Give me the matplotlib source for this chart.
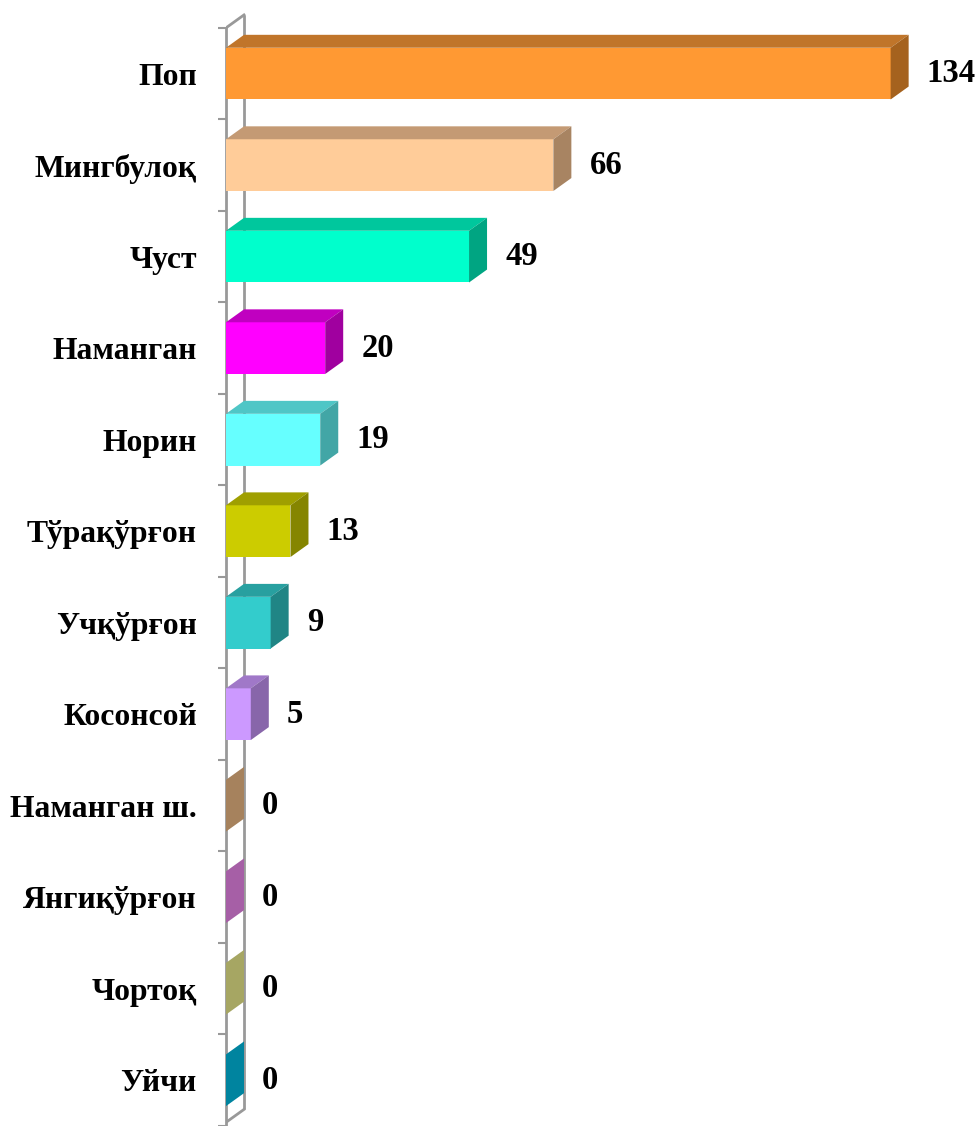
"""
3D-style horizontal bar chart of district counts.
"""
import numpy as np
import matplotlib
matplotlib.use("Agg")
from matplotlib import pyplot as plt
from matplotlib.patches import Polygon

# data
categories = ["Поп", "Мингбулоқ", "Чуст", "Наманган", "Норин", "Тўрақўрғон",
              "Учқўрғон", "Косонсой", "Наманган ш.", "Янгиқўрғон", "Чортоқ", "Уйчи"]
values = [134, 66, 49, 20, 19, 13, 9, 5, 0, 0, 0, 0]

# colours: front face, top face, right side face
front_colors = ["#FF9933", "#FFCC99", "#00FFCC", "#FF00FF", "#66FFFF", "#CCCC00",
                "#33CCCC", "#CC99FF", "#C89C70", "#C873C8", "#C8C878", "#00A0C0"]
top_colors = ["#C0752A", "#C49A74", "#00C79D", "#C000C0", "#4FC6C6", "#9F9F00",
              "#28A0A0", "#A078C8", "#A6825D", "#A65FA6", "#A6A663", "#00849F"]
side_colors = ["#A5621E", "#A88462", "#00A582", "#A0009F", "#42A6A6", "#858500",
               "#208585", "#8866AA", "#A6825D", "#A65FA6", "#A6A663", "#00849F"]

W, H = 978, 1126
px_per_unit = 4.96      # horizontal scale
px_per_cat = 92.0       # category spacing
depth_x = 18 / px_per_unit   # 3d depth in value units
depth_y = 13 / px_per_cat    # 3d depth in category units
bar_h = 52 / px_per_cat
wall_grey = "#999999"

plt.rcParams['font.family'] = ['Liberation Serif', 'DejaVu Serif']

fig = plt.figure(figsize=(W / 100, H / 100), dpi=100)
ax = fig.add_axes([226 / W, 0, (W - 226) / W, 1])
ax.set_xlim(0, (W - 226) / px_per_unit)
ax.set_ylim((H - 74) / px_per_cat, -74 / px_per_cat)

idx = np.arange(len(categories))
n = len(categories)
wall_top = -0.5
wall_bottom = n - 0.54

# wall (front line is the left spine)
for s in ("top", "right", "bottom"):
    ax.spines[s].set_visible(False)
ax.spines["left"].set_color(wall_grey)
ax.spines["left"].set_linewidth(2)
ax.spines["left"].set_bounds(wall_top, n)
ax.plot([depth_x, depth_x], [wall_top - depth_y, wall_bottom - depth_y],
        color=wall_grey, lw=2, zorder=1, solid_capstyle="butt")
ax.plot([0, depth_x], [wall_top, wall_top - depth_y], color=wall_grey, lw=2, zorder=1)
ax.plot([0, depth_x], [wall_bottom, wall_bottom - depth_y], color=wall_grey, lw=2, zorder=1)

# bars
ax.barh(idx, values, height=bar_h, color=front_colors, zorder=3)
for i, v in enumerate(values):
    y0 = i - bar_h / 2
    y1 = i + bar_h / 2
    if v > 0:
        top = [(0, y0), (v, y0), (v + depth_x, y0 - depth_y), (depth_x, y0 - depth_y)]
        ax.add_patch(Polygon(top, closed=True, facecolor=top_colors[i],
                             edgecolor="none", zorder=3))
    side = [(v, y0), (v, y1), (v + depth_x, y1 - depth_y), (v + depth_x, y0 - depth_y)]
    ax.add_patch(Polygon(side, closed=True, facecolor=side_colors[i],
                         edgecolor="none", zorder=3))
    ax.annotate(str(v), (v + depth_x, i), xytext=(13, 0), textcoords="offset points",
                ha="left", va="center", fontsize=23.5, fontweight="bold", zorder=4)

# ticks and labels
ax.set_xticks([])
ax.set_yticks(idx, labels=categories)
ax.set_yticks(np.arange(n + 1) - 0.5, minor=True)
ax.tick_params(axis="y", which="major", length=0, pad=21, labelsize=22.8)
ax.tick_params(axis="y", which="minor", length=6, width=1.5, color=wall_grey)
for lab in ax.get_yticklabels():
    lab.set_fontweight("bold")

fig.savefig("out.png", dpi=100)
